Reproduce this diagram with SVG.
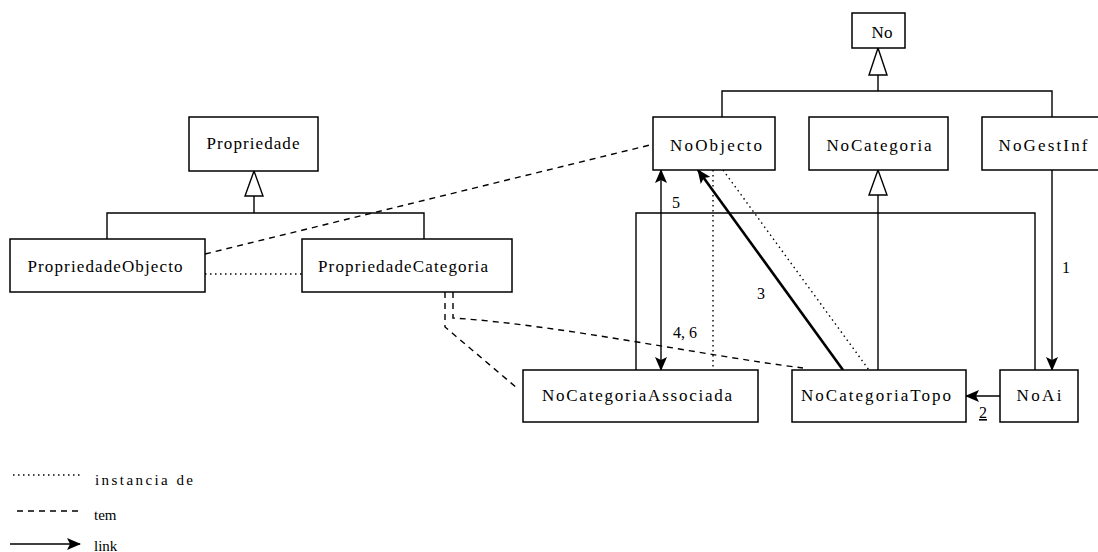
<svg xmlns="http://www.w3.org/2000/svg" width="1098" height="552" viewBox="0 0 1098 552">
<style>
.box{fill:#fff;stroke:#000;stroke-width:1.5}
.t{font-family:"Liberation Serif",serif;font-size:17px;text-anchor:middle;fill:#000}
.n{font-family:"Liberation Serif",serif;font-size:16px;fill:#000}
.lg{font-family:"Liberation Serif",serif;font-size:15px;fill:#000}
.ln{stroke:#000;stroke-width:1.4;fill:none}
.dot{stroke-dasharray:1.5 3.5}
.dash{stroke-dasharray:6 5}
.tri{fill:#fff;stroke:#000;stroke-width:1.4}
</style>
<defs>
<marker id="arr" markerUnits="userSpaceOnUse" markerWidth="14" markerHeight="12" refX="13" refY="6" orient="auto-start-reverse" viewBox="0 0 14 12">
<path d="M0,0 L14,6 L0,12 L3,6 z" fill="#000"/>
</marker>
</defs>
<rect width="1098" height="552" fill="#fff"/>
<g id="connectors">
<line class="ln" x1="878" y1="75" x2="878" y2="91"/>
<polyline class="ln" points="722,117 722,91 1052,91 1052,117"/>
<polygon class="tri" points="878,48 869,75 887,75"/>
<line class="ln" x1="254" y1="196" x2="254" y2="213"/>
<polyline class="ln" points="107,239 107,213 424,213 424,239"/>
<polygon class="tri" points="254,171 245,196 263,196"/>
<line class="ln" x1="878" y1="195" x2="878" y2="370"/>
<polyline class="ln" points="636,370 636,213 1035,213 1035,370"/>
<polygon class="tri" points="878,170 869,195 887,195"/>
<line class="ln dot" x1="205" y1="274" x2="302" y2="274"/>
<line class="ln dash" x1="205" y1="254" x2="650" y2="145"/>
<line class="ln" x1="661" y1="170" x2="661" y2="370" marker-start="url(#arr)" marker-end="url(#arr)"/>
<line class="ln dot" x1="713" y1="170" x2="713" y2="370"/>
<line class="ln dot" x1="723" y1="170" x2="869" y2="370"/>
<line stroke="#000" stroke-width="2.6" x1="843" y1="370" x2="698" y2="170" marker-end="url(#arr)"/>
<polyline class="ln dash" points="445,292 445,327 517,388"/>
<path class="ln dash" d="M453,292 V318 C560,325 700,355 803,368"/>
<line class="ln" x1="1052" y1="170" x2="1052" y2="370" marker-end="url(#arr)"/>
<line class="ln" x1="1000" y1="396" x2="966" y2="396" marker-end="url(#arr)"/>
<text class="n" x="672" y="208">5</text>
<text class="n" x="757" y="299">3</text>
<text class="n" x="1062" y="273">1</text>
<text class="n" x="673" y="338">4, 6</text>
<text class="n" x="979" y="418" text-decoration="underline">2</text>
</g>
<g id="No"><rect class="box" x="852" y="13" width="53" height="35"/><text class="t" x="882" y="38">No</text></g>
<g id="NoObjecto"><rect class="box" x="653" y="117" width="122" height="53"/><text class="t" x="716" y="151" textLength="92" lengthAdjust="spacing">NoObjecto</text></g>
<g id="NoCategoria"><rect class="box" x="809" y="117" width="139" height="53"/><text class="t" x="879" y="151" textLength="105" lengthAdjust="spacing">NoCategoria</text></g>
<g id="NoGestInf"><rect class="box" x="982" y="117" width="122" height="53"/><text class="t" x="1043" y="151" textLength="89" lengthAdjust="spacing">NoGestInf</text></g>
<g id="Propriedade"><rect class="box" x="189" y="117" width="129" height="54"/><text class="t" x="253" y="149" textLength="93" lengthAdjust="spacing">Propriedade</text></g>
<g id="PropriedadeObjecto"><rect class="box" x="10" y="239" width="195" height="53"/><text class="t" x="105" y="272" textLength="155" lengthAdjust="spacing">PropriedadeObjecto</text></g>
<g id="PropriedadeCategoria"><rect class="box" x="302" y="239" width="210" height="53"/><text class="t" x="403" y="272" textLength="170" lengthAdjust="spacing">PropriedadeCategoria</text></g>
<g id="NoCategoriaAssociada"><rect class="box" x="523" y="370" width="235" height="52"/><text class="t" x="637" y="401" textLength="190" lengthAdjust="spacing">NoCategoriaAssociada</text></g>
<g id="NoCategoriaTopo"><rect class="box" x="792" y="370" width="174" height="52"/><text class="t" x="876" y="401" textLength="150" lengthAdjust="spacing">NoCategoriaTopo</text></g>
<g id="NoAi"><rect class="box" x="1000" y="370" width="78" height="52"/><text class="t" x="1039" y="401" textLength="45" lengthAdjust="spacing">NoAi</text></g>
<g id="legend">
<line class="ln dot" x1="13" y1="475" x2="80" y2="475"/>
<text class="lg" x="95" y="485" textLength="98" lengthAdjust="spacing">instancia de</text>
<line class="ln dash" x1="17" y1="511" x2="80" y2="511"/>
<text class="lg" x="94" y="520">tem</text>
<line class="ln" x1="10" y1="544" x2="80" y2="544" marker-end="url(#arr)"/>
<text class="lg" x="94" y="551">link</text>
</g>
</svg>
